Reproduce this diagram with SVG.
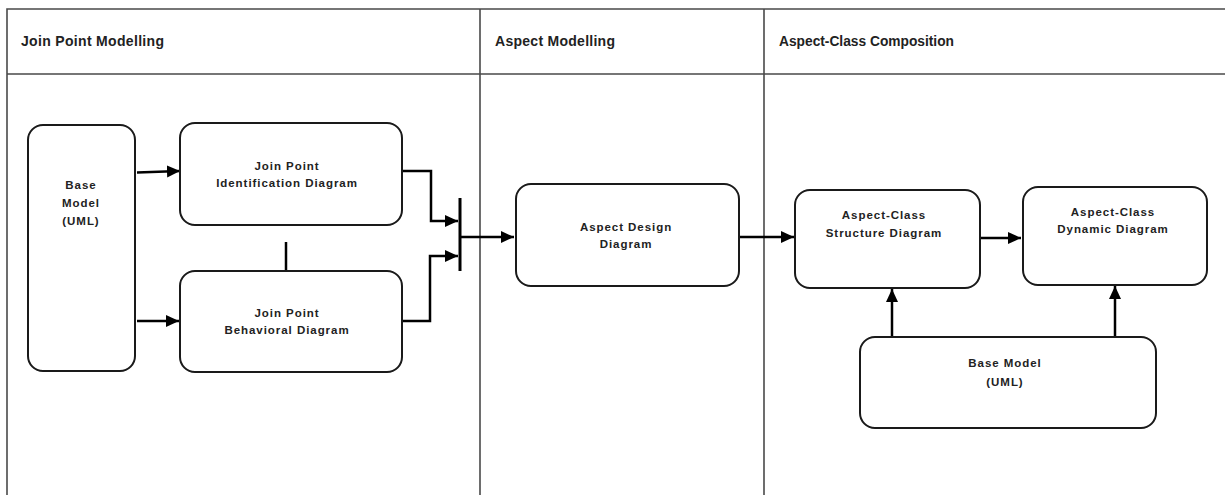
<svg xmlns="http://www.w3.org/2000/svg" width="1225" height="495" viewBox="0 0 1225 495">
  <style>
    .frame { fill: none; stroke: #4a4a4a; stroke-width: 1.6; }
    .box { fill: #fff; stroke: #1a1a1a; stroke-width: 2; }
    .conn { fill: none; stroke: #000; stroke-width: 2.5; }
    .hdr { font-family: "Liberation Sans", Arial, sans-serif; font-weight: bold; font-size: 14px; fill: #222; }
    .lbl { font-family: "Liberation Sans", Arial, sans-serif; font-weight: bold; font-size: 11.5px; fill: #222; text-anchor: middle; letter-spacing: 0.95px; }
  </style>
  <defs>
    <marker id="arrow" markerUnits="userSpaceOnUse" markerWidth="14" markerHeight="14" refX="13" refY="7" orient="auto">
      <path d="M0,1 L13,7 L0,13 z" fill="#000"/>
    </marker>
  </defs>

  <rect width="1225" height="495" fill="#fff"/>

  <!-- swimlane frame -->
  <g id="lanes">
    <path class="frame" d="M7,495 V9 H1225 M7,74 H1225 M480,9 V495 M764,9 V495"/>
    <text class="hdr" x="21" y="46" textLength="143" lengthAdjust="spacing">Join Point Modelling</text>
    <text class="hdr" x="495" y="46" textLength="120" lengthAdjust="spacing">Aspect Modelling</text>
    <text class="hdr" x="779" y="46" textLength="175" lengthAdjust="spacingAndGlyphs">Aspect-Class Composition</text>
  </g>

  <!-- connectors -->
  <g id="connectors">
    <path class="conn" d="M137,172.5 L180,171" marker-end="url(#arrow)"/>
    <path class="conn" d="M137,321 H179" marker-end="url(#arrow)"/>
    <path class="conn" d="M286,242 V271"/>
    <path class="conn" d="M402,171 H431 V221 H458" marker-end="url(#arrow)"/>
    <path class="conn" d="M402,321 H430 V256 H458" marker-end="url(#arrow)"/>
    <path class="conn" d="M460,237 H514" marker-end="url(#arrow)"/>
    <path class="conn" d="M739,237 H794" marker-end="url(#arrow)"/>
    <path class="conn" d="M981,238 H1021" marker-end="url(#arrow)"/>
    <path class="conn" d="M892,337 V289" marker-end="url(#arrow)"/>
    <path class="conn" d="M1115,337 V286" marker-end="url(#arrow)"/>
  </g>

  <!-- join bar -->
  <g id="join-bar">
    <rect x="458.5" y="198" width="3" height="73" fill="#000"/>
  </g>

  <g id="base-model-left">
    <rect class="box" x="28" y="125" width="107" height="246" rx="15"/>
    <text class="lbl" x="81" y="189">Base</text>
    <text class="lbl" x="81" y="207">Model</text>
    <text class="lbl" x="81" y="225">(UML)</text>
  </g>

  <g id="jp-identification">
    <rect class="box" x="180" y="123" width="222" height="102" rx="15"/>
    <text class="lbl" x="287" y="170">Join Point</text>
    <text class="lbl" x="287" y="187">Identification Diagram</text>
  </g>

  <g id="jp-behavioral">
    <rect class="box" x="180" y="271" width="222" height="101" rx="15"/>
    <text class="lbl" x="287" y="317">Join Point</text>
    <text class="lbl" x="287" y="334">Behavioral Diagram</text>
  </g>

  <g id="aspect-design">
    <rect class="box" x="516" y="184" width="223" height="102" rx="15"/>
    <text class="lbl" x="626" y="231">Aspect Design</text>
    <text class="lbl" x="626" y="248">Diagram</text>
  </g>

  <g id="ac-structure">
    <rect class="box" x="795" y="190" width="185" height="98" rx="15"/>
    <text class="lbl" x="884" y="219">Aspect-Class</text>
    <text class="lbl" x="884" y="237">Structure Diagram</text>
  </g>

  <g id="ac-dynamic">
    <rect class="box" x="1023" y="187" width="184" height="98" rx="15"/>
    <text class="lbl" x="1113" y="216">Aspect-Class</text>
    <text class="lbl" x="1113" y="233">Dynamic Diagram</text>
  </g>

  <g id="base-model-right">
    <rect class="box" x="860" y="337" width="296" height="91" rx="15"/>
    <text class="lbl" x="1005" y="367">Base Model</text>
    <text class="lbl" x="1005" y="386">(UML)</text>
  </g>
</svg>
